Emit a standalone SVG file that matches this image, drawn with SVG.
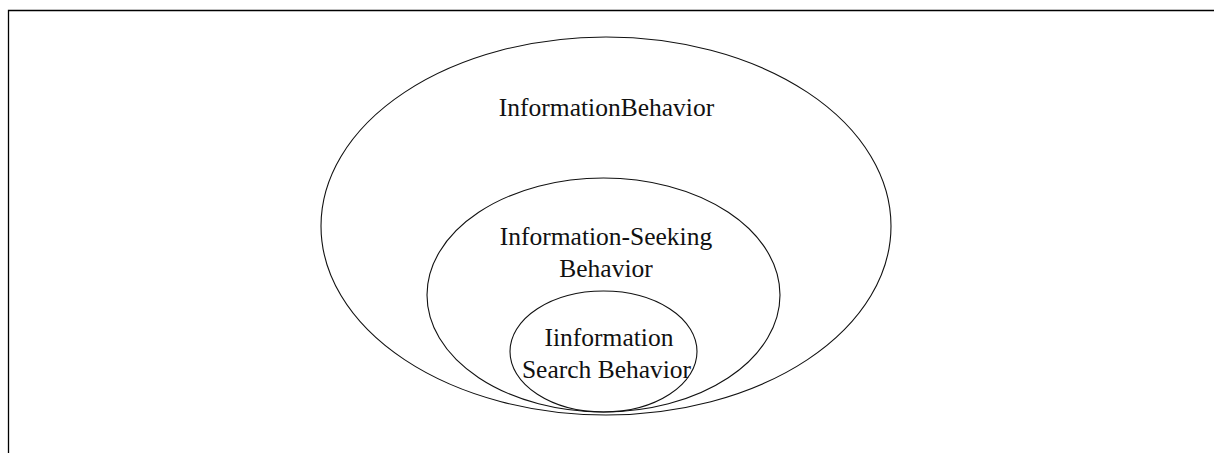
<svg xmlns="http://www.w3.org/2000/svg" width="1214" height="453" viewBox="0 0 1214 453">
<style>
.frame{fill:none;stroke:#000;stroke-width:1.3}
.ring{fill:none;stroke:#111;stroke-width:1.1}
.lbl{font-family:"Liberation Serif","Times New Roman",serif;font-size:25.5px;fill:#111;text-anchor:middle}
</style>
<rect width="1214" height="453" fill="#fff"/>
<path class="frame" d="M8.5,453 V10.5 H1214"/>
<g id="outer">
<ellipse class="ring" cx="606" cy="226" rx="285" ry="189"/>
<text class="lbl" x="606.5" y="116">InformationBehavior</text>
</g>
<g id="middle">
<ellipse class="ring" cx="603.5" cy="295" rx="176.5" ry="117"/>
<text class="lbl" x="606" y="245">Information-Seeking</text>
<text class="lbl" x="606" y="277">Behavior</text>
</g>
<g id="inner">
<ellipse class="ring" cx="603.5" cy="351.5" rx="93.5" ry="60.5"/>
<text class="lbl" x="609" y="346">Iinformation</text>
<text class="lbl" x="606.5" y="378">Search Behavior</text>
</g>
<g id="connectors"></g>
</svg>
